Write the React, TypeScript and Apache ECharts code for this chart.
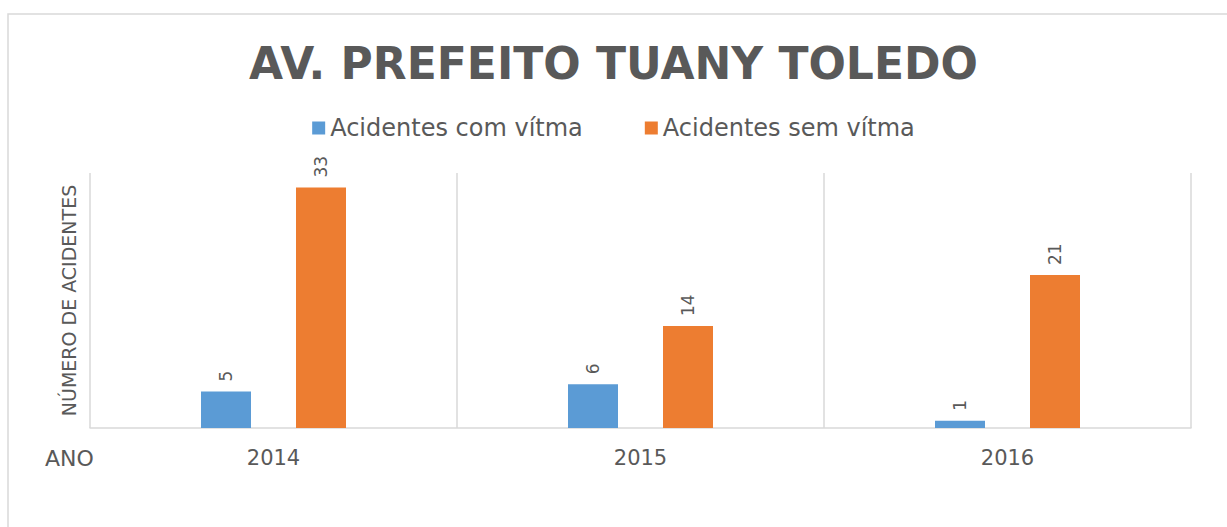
import React, { useEffect, useRef } from "react";
import * as echarts from "echarts";

const titleText = "AV. PREFEITO TUANY TOLEDO";
const years = ["2014", "2015", "2016"];
const comVitima = [5, 6, 1];
const semVitima = [33, 14, 21];
const seriesNames = ["Acidentes com vítma", "Acidentes sem vítma"];
const yAxisTitle = "NÚMERO DE ACIDENTES";
const xAxisTitle = "ANO";

const FONT = "DejaVu Sans";
const TXT = "#595959";

export default function App() {
  const ref = useRef<HTMLDivElement>(null);
  useEffect(() => {
    if (!ref.current) return;
    const chart = echarts.init(ref.current, null, { renderer: "svg" });
    const label = {
      show: true,
      position: "top",
      rotate: 90,
      align: "left",
      verticalAlign: "middle",
      distance: 10,
      color: TXT,
      fontFamily: FONT,
      fontSize: 17,
    };
    chart.setOption({
      animation: false,
      backgroundColor: "#ffffff",
      title: {
        text: titleText,
        left: "center",
        top: 36,
        textStyle: { fontFamily: FONT, fontSize: 44, fontWeight: "bold", color: TXT },
      },
      legend: {
        top: 111,
        left: "center",
        itemWidth: 13,
        itemHeight: 13,
        itemGap: 62,
        icon: "rect",
        textStyle: { fontFamily: FONT, fontSize: 24, color: TXT },
        data: seriesNames,
      },
      grid: { left: 90, right: 36, top: 173, bottom: 99 },
      xAxis: {
        type: "category",
        data: years,
        axisLine: { show: true, lineStyle: { color: "#d9d9d9", width: 1.5 } },
        axisTick: { show: false },
        splitLine: { show: true, lineStyle: { color: "#d9d9d9", width: 1.5 } },
        axisLabel: { fontFamily: FONT, fontSize: 21, color: TXT, margin: 19 },
      },
      yAxis: {
        type: "value",
        min: 0,
        max: 35,
        axisLine: { show: false },
        axisTick: { show: false },
        splitLine: { show: false },
        axisLabel: { show: false },
        name: yAxisTitle,
        nameLocation: "middle",
        nameRotate: 90,
        nameGap: 12,
        nameTextStyle: { fontFamily: FONT, fontSize: 19, color: TXT },
      },
      graphic: [
        {
          type: "rect",
          shape: { x: 8, y: 14, width: 1240, height: 530 },
          style: { fill: "none", stroke: "#d9d9d9", lineWidth: 1.5 },
          silent: true,
        },
        {
          type: "text",
          left: 45,
          top: 447,
          style: { text: xAxisTitle, fontFamily: FONT, fontSize: 22, fill: TXT },
        },
      ],
      series: [
        {
          name: seriesNames[0],
          type: "bar",
          data: comVitima,
          barWidth: 50,
          barGap: "90%",
          itemStyle: { color: "#5B9BD5" },
          label,
        },
        {
          name: seriesNames[1],
          type: "bar",
          data: semVitima,
          barWidth: 50,
          itemStyle: { color: "#ED7D31" },
          label,
        },
      ],
    });
    return () => chart.dispose();
  }, []);
  return (
    <div
      ref={ref}
      style={{ position: "fixed", left: 0, top: 0, width: 1227, height: 527 }}
    />
  );
}
